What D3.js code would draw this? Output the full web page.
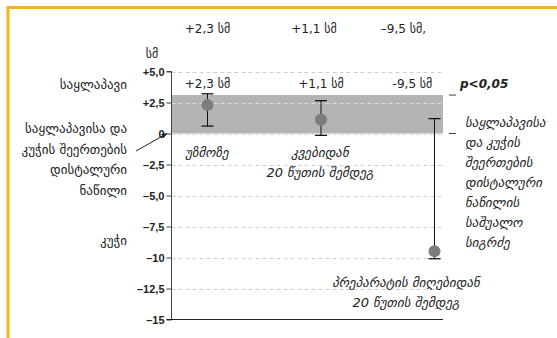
<!DOCTYPE html>
<html>
<head>
<meta charset="utf-8">
<script src="https://cdn.jsdelivr.net/npm/d3@7"></script>
<style>
  html, body { margin: 0; padding: 0; background: #fff; }
  svg { display: block; font-family: "DejaVu Sans", sans-serif; }
</style>
</head>
<body>
<svg id="chart" width="557" height="338"></svg>
<script>
// Mean change in length of the distal oesophago-gastric junction, cm
const categories = ["უზმოზე", "კვებიდან|20 წუთის შემდეგ", "პრეპარატის მიღებიდან|20 წუთის შემდეგ"];
const means = [2.3, 1.1, -9.5];
const errLow = [0.6, -0.15, -10.1];
const errHigh = [3.2, 2.65, 1.2];
const valueLabels = ["+2,3 სმ", "+1,1 სმ", "-9,5 სმ"];
const headerLabels = ["+2,3 სმ", "+1,1 სმ", "–9,5 სმ,"];
const yTicks = [5, 2.5, 0, -2.5, -5, -7.5, -10, -12.5, -15];
const yTickLabels = ["+5,0", "+2,5", "0", "–2,5", "–5,0", "–7,5", "–10", "–12,5", "–15"];
const junctionBand = [0, 3.1];
const leftLabels = ["საყლაპავი", "საყლაპავისა და|კუჭის შეერთების|დისტალური|ნაწილი", "კუჭი"];
const rightNote = ["საყლაპავისა", "და კუჭის", "შეერთების", "დისტალური", "ნაწილის", "საშუალო", "სიგრძე"];
const unitLabel = "სმ";
const sigLabel = "p<0,05";

const svg = d3.select("#chart");
const axisX = 171.5, plotRight = 443;

const y = d3.scaleLinear().domain([-15, 5]).range([319.5, 71.5]);
const x = d3.scalePoint().domain(d3.range(categories.length)).range([207.5, 434.5]);

// frame
const frameColor = "#f5b21c";
svg.append("line").attr("x1", 8).attr("x2", 557).attr("y1", 7.5).attr("y2", 7.5)
  .attr("stroke", frameColor).attr("stroke-width", 3);
svg.append("line").attr("x1", 8).attr("x2", 8).attr("y1", 6).attr("y2", 338)
  .attr("stroke", frameColor).attr("stroke-width", 3);

// shaded junction band
svg.append("rect")
  .attr("x", axisX).attr("width", plotRight - axisX)
  .attr("y", y(junctionBand[1])).attr("height", y(junctionBand[0]) - y(junctionBand[1]))
  .attr("fill", "#b4b4b4");

// dashed grid
svg.append("g").selectAll("line").data(yTicks.filter(d => d > -15)).join("line")
  .attr("x1", axisX).attr("x2", plotRight)
  .attr("y1", d => Math.round(y(d)) + 0.5).attr("y2", d => Math.round(y(d)) + 0.5)
  .attr("stroke", d => (d > junctionBand[0] && d < junctionBand[1]) || d === 0 ? "#dcdcdc" : "#cfcfcf")
  .attr("stroke-dasharray", "4,3").attr("stroke-width", 1);

// y axis
const yAxis = d3.axisLeft(y).tickValues(yTicks).tickSize(5)
  .tickFormat((d, i) => yTickLabels[i]);
const gy = svg.append("g").attr("transform", `translate(${axisX},0)`).call(yAxis);
gy.select(".domain").attr("stroke", "#444").attr("d", `M-5,${y(5)}H0V${y(-15)}`);
gy.selectAll(".tick line").attr("stroke", "#444");
gy.selectAll(".tick text").attr("x", -7).attr("dy", "0.35em")
  .attr("font-size", 11).attr("font-weight", "bold").attr("fill", "#222");

// bottom axis line
svg.append("line").attr("x1", axisX - 5).attr("x2", plotRight)
  .attr("y1", y(-15)).attr("y2", y(-15)).attr("stroke", "#222").attr("stroke-width", 1.2);

// unit label
svg.append("text").attr("x", 152).attr("y", 58).attr("text-anchor", "middle")
  .attr("font-size", 12).attr("fill", "#222").text(unitLabel);

// error bars
const eb = svg.append("g").selectAll("g").data(means).join("g");
eb.append("line")
  .attr("x1", (d, i) => x(i)).attr("x2", (d, i) => x(i))
  .attr("y1", (d, i) => y(errHigh[i])).attr("y2", (d, i) => y(errLow[i]))
  .attr("stroke", "#111").attr("stroke-width", 1);
eb.append("line")
  .attr("x1", (d, i) => x(i) - 6).attr("x2", (d, i) => x(i) + 6)
  .attr("y1", (d, i) => y(errHigh[i])).attr("y2", (d, i) => y(errHigh[i]))
  .attr("stroke", "#111").attr("stroke-width", 1.3);
eb.append("line")
  .attr("x1", (d, i) => x(i) - 6).attr("x2", (d, i) => x(i) + 6)
  .attr("y1", (d, i) => y(errLow[i])).attr("y2", (d, i) => y(errLow[i]))
  .attr("stroke", "#111").attr("stroke-width", 1.3);
eb.append("circle")
  .attr("cx", (d, i) => x(i)).attr("cy", d => y(d)).attr("r", 6)
  .attr("fill", "#7c7c7c");

// value labels inside plot and header
const labelX = [0, 0, -22];
svg.append("g").selectAll("text").data(valueLabels).join("text")
  .attr("x", (d, i) => x(i) + labelX[i]).attr("y", 88).attr("text-anchor", "middle")
  .attr("font-size", 12).attr("fill", "#222").text(d => d);
const headerX = [0, -7, -31];
svg.append("g").selectAll("text").data(headerLabels).join("text")
  .attr("x", (d, i) => x(i) + headerX[i]).attr("y", 33).attr("text-anchor", "middle")
  .attr("font-size", 12).attr("fill", "#222").text(d => d);

svg.append("text").attr("x", 460).attr("y", 88).attr("font-size", 12)
  .attr("font-weight", "bold").attr("font-style", "italic").attr("fill", "#222").text(sigLabel);

// category labels
const catPos = [[207, 157], [320, 157], [406, 287]];
categories.forEach((c, i) => {
  const t = svg.append("text").attr("text-anchor", "middle")
    .attr("font-size", 13).attr("font-style", "italic").attr("fill", "#222");
  c.split("|").forEach((line, j) => {
    t.append("tspan").attr("x", catPos[i][0]).attr("y", catPos[i][1] + j * 20).text(line);
  });
});

// left side labels
const leftPos = [[127, 89, 20], [127, 133, 20.5], [127, 245, 20]];
leftLabels.forEach((c, i) => {
  const t = svg.append("text").attr("text-anchor", "end")
    .attr("font-size", 13).attr("fill", "#222");
  c.split("|").forEach((line, j) => {
    t.append("tspan").attr("x", leftPos[i][0]).attr("y", leftPos[i][1] + j * leftPos[i][2]).text(line);
  });
});

// right note
const rn = svg.append("text").attr("font-size", 13).attr("font-style", "italic").attr("fill", "#222");
rightNote.forEach((line, j) => {
  rn.append("tspan").attr("x", 465).attr("y", 127 + j * 20).text(line);
});

// pointers
svg.append("defs").append("marker").attr("id", "ah").attr("viewBox", "0 0 10 10")
  .attr("refX", 9).attr("refY", 5).attr("markerWidth", 6).attr("markerHeight", 6)
  .attr("orient", "auto").append("path").attr("d", "M0,1L10,5L0,9z").attr("fill", "#222");
svg.append("line").attr("x1", 136).attr("y1", 151).attr("x2", 167).attr("y2", y(0))
  .attr("stroke", "#222").attr("stroke-width", 1).attr("marker-end", "url(#ah)");
[junctionBand[1], junctionBand[0]].forEach(v => {
  svg.append("line").attr("x1", 449).attr("x2", 456).attr("y1", y(v)).attr("y2", y(v))
    .attr("stroke", "#444").attr("stroke-width", 1);
});
</script>
</body>
</html>
